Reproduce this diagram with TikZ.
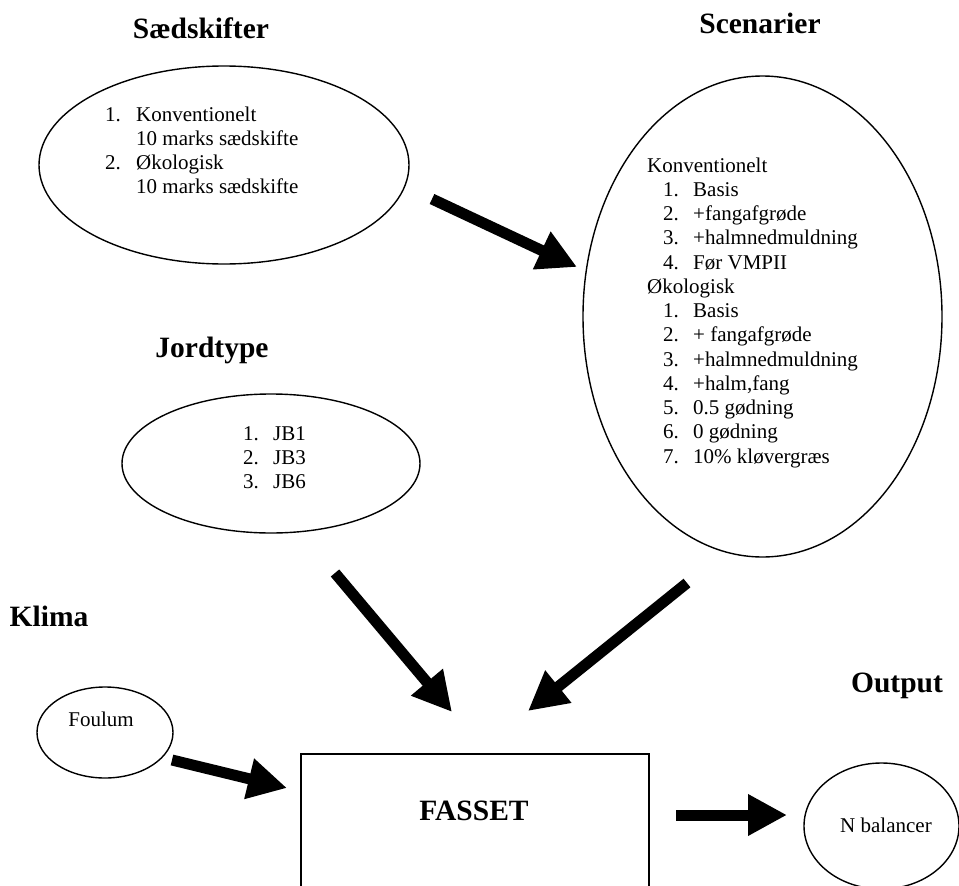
\documentclass[tikz,border=0pt]{standalone}
\usepackage{fontspec}
\setmainfont{Liberation Serif}
\usetikzlibrary{shapes.geometric,arrows.meta}
\begin{document}
\begin{tikzpicture}[x=1pt,y=-1pt,
  hdr/.style={font=\fontsize{29.5}{35}\selectfont\bfseries, inner sep=0, anchor=base},
  body/.style={font=\fontsize{21}{24.25}\selectfont, inner sep=0},
  oval/.style={draw, ellipse, line width=1.4pt, inner sep=0},
  fat/.style={line width=11pt, -{Triangle[length=39pt,width=39pt]}},
]
\useasboundingbox (0,0) rectangle (959,886);
\clip (0,0) rectangle (959,886);

% headers
\node[hdr] (hSaed) at (201,38) {Sædskifter};
\node[hdr] (hScen) at (760,33) {Scenarier};
\node[hdr] (hJord) at (212,357) {Jordtype};
\node[hdr] (hKlima) at (49,626) {Klima};
\node[hdr] (hOut) at (897,692) {Output};

% ellipses
\node[oval, minimum width=370pt, minimum height=198pt] (saed) at (224,165) {};
\node[oval, minimum width=359pt, minimum height=481pt] (scen) at (762.5,316.5) {};
\node[oval, minimum width=298pt, minimum height=139pt] (jord) at (271,463.5) {};
\node[oval, minimum width=136pt, minimum height=91pt] (foul) at (105,732.5) {};
\node[oval, minimum width=155pt, minimum height=126pt] (nbal) at (881.5,826) {};

% FASSET box
\draw[line width=1.4pt] (301,754) rectangle (649,900);
\node[hdr] (fasset) at (474,820) {FASSET};

% texts
\node[body, anchor=base west] (tSaed) at (105,121) {%
\begin{tabular}[t]{@{}p{31pt}@{}l@{}}
1. & Konventionelt\\
   & 10 marks sædskifte\\
2. & Økologisk\\
   & 10 marks sædskifte
\end{tabular}};

\node[body, anchor=base west] (tScen) at (647,172) {%
\begin{tabular}[t]{@{}p{16pt}@{}p{30pt}@{}l@{}}
\multicolumn{3}{@{}l@{}}{Konventionelt}\\
 & 1. & Basis\\
 & 2. & +fangafgrøde\\
 & 3. & +halmnedmuldning\\
 & 4. & Før VMPII\\
\multicolumn{3}{@{}l@{}}{Økologisk}\\
 & 1. & Basis\\
 & 2. & + fangafgrøde\\
 & 3. & +halmnedmuldning\\
 & 4. & +halm,fang\\
 & 5. & 0.5 gødning\\
 & 6. & 0 gødning\\
 & 7. & 10\% kløvergræs
\end{tabular}};

\node[body, anchor=base west] (tJord) at (243,440) {%
\begin{tabular}[t]{@{}p{30pt}@{}l@{}}
1. & JB1\\
2. & JB3\\
3. & JB6
\end{tabular}};

\node[body, anchor=base] (tFoul) at (101,726) {Foulum};
\node[body, anchor=base] (tNbal) at (886,832) {N balancer};

% arrow ends
\coordinate (a1s) at (432,199);
\coordinate (a1e) at (577,267);
\coordinate (a2s) at (335,573);
\coordinate (a2e) at (452,712);
\coordinate (a3s) at (687,583);
\coordinate (a3e) at (528,711);
\coordinate (a4s) at (172,760);
\coordinate (a4e) at (287,788);
\coordinate (a5s) at (676,815);
\coordinate (a5e) at (787,815);

\draw[fat] (a1s) -- (a1e);
\draw[fat] (a2s) -- (a2e);
\draw[fat] (a3s) -- (a3e);
\draw[fat] (a4s) -- (a4e);
\draw[fat] (a5s) -- (a5e);
\end{tikzpicture}
\end{document}
